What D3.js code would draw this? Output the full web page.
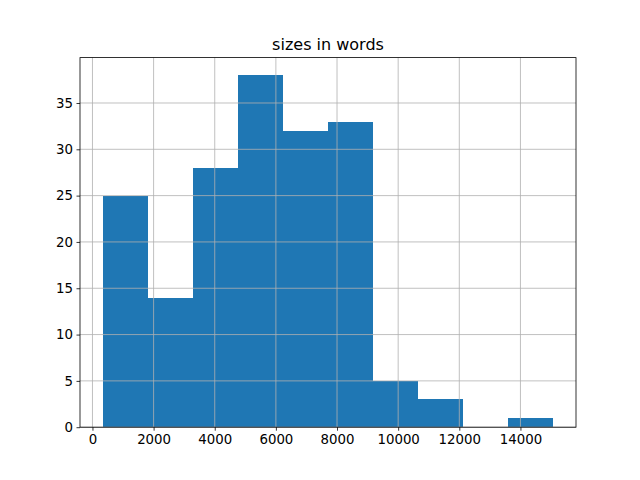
<!DOCTYPE html>
<html><head><meta charset="utf-8">
<script src="https://cdn.jsdelivr.net/npm/d3@7"></script>
<style>body{margin:0;background:#fff}</style>
</head><body>
<svg id="c" width="640" height="480"></svg>
<script>
const title = "sizes in words";
const binMin = 330;
const binMax = 15080;
const counts = [25, 14, 28, 38, 32, 33, 5, 3, 0, 1];
const xTicks = [0, 2000, 4000, 6000, 8000, 10000, 12000, 14000];
const yTicks = [0, 5, 10, 15, 20, 25, 30, 35];

const svg = d3.select("#c");
const L = 80, R = 576, T = 57.6, B = 427.2;
const n = counts.length;
const bw = (binMax - binMin) / n;
const edges = d3.range(n + 1).map(i => binMin + i * bw);
const xm = (binMax - binMin) * 0.05;
const x = d3.scaleLinear().domain([binMin - xm, binMax + xm]).range([L, R]);
const yMax = d3.max(counts) * 1.05;
const y = d3.scaleLinear().domain([0, yMax]).range([B, T]);
const font = "DejaVu Sans, sans-serif";

svg.append("rect").attr("width", 640).attr("height", 480).attr("fill", "#fff");

// bars
svg.append("g").attr("shape-rendering", "crispEdges").selectAll("rect").data(counts).join("rect")
  .attr("x", (d, i) => x(edges[i]))
  .attr("width", (d, i) => x(edges[i + 1]) - x(edges[i]))
  .attr("y", d => y(d))
  .attr("height", d => B - y(d))
  .attr("fill", "#1f77b4");

// grid over bars
const grid = svg.append("g").attr("stroke", "#b0b0b0").attr("stroke-width", 0.8);
grid.selectAll(".gx").data(xTicks).join("line")
  .attr("x1", d => x(d)).attr("x2", d => x(d)).attr("y1", T).attr("y2", B);
grid.selectAll(".gy").data(yTicks).join("line")
  .attr("y1", d => y(d)).attr("y2", d => y(d)).attr("x1", L).attr("x2", R);

// axes
const xAxis = d3.axisBottom(x).tickValues(xTicks).tickSize(3.5).tickPadding(3.5).tickFormat(d3.format("d"));
const gx = svg.append("g").attr("transform", `translate(0,${B})`).call(xAxis);
const yAxis = d3.axisLeft(y).tickValues(yTicks).tickSize(3.5).tickPadding(3.5);
const gy = svg.append("g").attr("transform", `translate(${L},0)`).call(yAxis);
[gx, gy].forEach(g => {
  g.select(".domain").remove();
  g.selectAll(".tick line").attr("stroke", "#000").attr("stroke-width", 0.8);
  g.selectAll(".tick text").attr("font-family", font).attr("font-size", "13.33px").attr("fill", "#000");
});

// frame
svg.append("rect").attr("x", L).attr("y", T).attr("width", R - L).attr("height", B - T)
  .attr("fill", "none").attr("stroke", "#000").attr("stroke-width", 0.8);

svg.append("text").attr("x", (L + R) / 2).attr("y", T - 8)
  .attr("text-anchor", "middle").attr("font-family", font).attr("font-size", "16px")
  .text(title);
</script>
</body></html>
